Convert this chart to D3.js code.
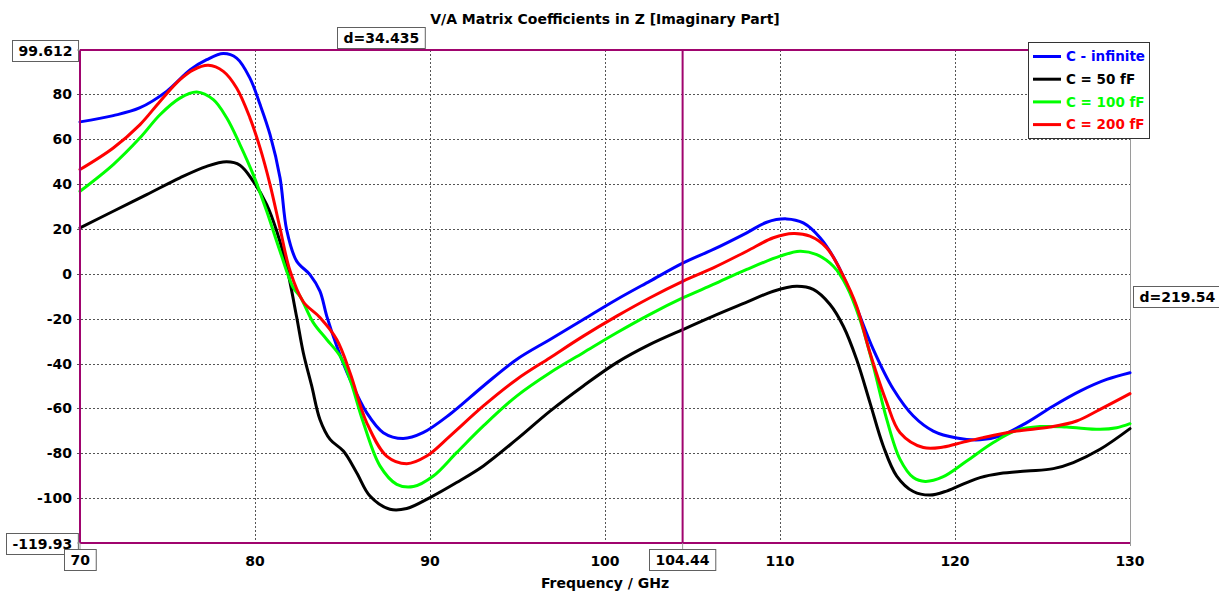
<!DOCTYPE html>
<html>
<head>
<meta charset="utf-8">
<script src="https://cdn.jsdelivr.net/npm/d3@7"></script>
<style>
  html, body { margin: 0; padding: 0; background: #fff; }
  svg { display: block; font-family: "DejaVu Sans", Verdana, sans-serif; font-weight: bold; }
</style>
</head>
<body>
<svg id="chart" width="1219" height="597"></svg>
<script>
// ---- data: imaginary part of the V/A matrix coefficient vs frequency (GHz) ----
const seriesNames  = ["C - infinite", "C = 50 fF", "C = 100 fF", "C = 200 fF"];
const seriesColors = ["#0000ff", "#000000", "#00ff00", "#ff0000"];

const cInfinite = [
  [70,67.6],[71.9,70.4],[73.4,73.8],[74.95,81.2],[76.3,90.8],[77.24,95.3],[78.19,98.0],
  [78.95,96.0],[79.71,87.1],[80.29,75.3],[80.86,61.9],[81.43,42.7],[81.81,19.5],[82.38,5.6],
  [83.14,-0.4],[83.71,-7.8],[84.1,-18.9],[84.67,-32.2],[85.43,-47.1],[86.38,-61.9],
  [87.33,-70.8],[88.47,-73.4],[89.6,-70.8],[91.14,-62.6],[93.05,-50],[94.95,-38.2],
  [96.86,-29.3],[98.76,-20.4],[100.67,-11.5],[102.57,-3.3],[104.47,4.8],[106.19,10.8],
  [108.1,18.2],[109.24,22.9],[110.38,24.4],[111.33,22.6],[112.29,16],[113.24,4.8],
  [114.19,-11.5],[115.33,-33.7],[116.48,-51.5],[117.62,-63.4],[118.76,-70.1],[120.1,-73.2],
  [121.43,-74],[122.57,-72.3],[124.1,-66.3],[125.62,-58.9],[127.14,-52.3],[128.67,-47.1],[130,-44.1]
];
const c50fF = [
  [70,20.4],[71.9,27.8],[73.81,35.2],[75.71,42.7],[77.24,47.8],[78.38,49.8],[79.14,48.3],
  [79.9,41.1],[80.67,30.8],[81.24,19],[81.81,3],[82.38,-19.3],[82.76,-35.2],[83.24,-50],
  [83.71,-64.9],[84.29,-73.8],[85.05,-79],[85.81,-88.6],[86.57,-99],[87.71,-104.9],
  [88.67,-104.6],[90,-99.7],[91.52,-93],[93.05,-85.6],[94.95,-73.8],[96.86,-61.2],
  [98.76,-50],[100.67,-39.6],[102.57,-31.5],[104.47,-24.8],[106.19,-18.9],[108.1,-12.7],
  [109.62,-7.8],[110.95,-5.6],[111.9,-7],[112.86,-13.7],[113.62,-23.4],[114.38,-38.2],
  [115.14,-57.4],[115.9,-76.7],[116.67,-90.1],[117.62,-97],[118.57,-98.6],[119.52,-96.8],
  [120.67,-93],[121.43,-90.8],[122.57,-89],[124.1,-87.9],[125.62,-86.8],[126.76,-84.1],
  [128.29,-78.2],[130,-69]
];
const c100fF = [
  [70,36.7],[71.9,48.6],[73.43,60.5],[74.57,70.8],[75.71,78.2],[76.67,80.9],[77.62,77.5],
  [78.38,69.4],[79.14,57.5],[79.9,44.1],[80.67,27.8],[81.43,10],[82.19,-6.3],[82.57,-10],
  [83.33,-21.8],[84.1,-29.3],[84.86,-36.7],[85.43,-47.1],[86.19,-66.3],[87.14,-85.6],
  [88.1,-93.8],[89.05,-94.8],[90.19,-90.1],[91.52,-79.7],[93.05,-67.8],[94.95,-54.5],
  [96.86,-44.1],[98.76,-35.2],[100.67,-26.3],[102.57,-18.1],[104.47,-10.7],[106.19,-4.8],
  [108.1,1.9],[110,7.8],[111.14,10],[112.1,8.5],[113.05,3.3],[113.81,-5.6],[114.57,-20.4],
  [115.33,-41.1],[116.1,-64.9],[116.86,-82.7],[117.62,-90.8],[118.3,-92.5],[119.3,-90.5],
  [120.67,-83.4],[122.19,-75.2],[123.52,-69.8],[124.86,-68.1],[126.38,-68.3],[128.29,-69.3],
  [129.24,-68.6],[130,-66.8]
];
const c200fF = [
  [70,46.4],[71.9,56],[73.43,66.4],[74.57,76.7],[75.71,86.4],[76.48,90.8],[77.33,92.8],
  [78.19,90.1],[78.95,82.7],[79.71,69.4],[80.29,56],[80.86,39.7],[81.43,20.2],[82.0,1.3],
  [82.76,-12.5],[83.71,-19.5],[84.67,-29.3],[85.43,-44.1],[86.38,-66.3],[87.52,-81.2],
  [88.67,-84.6],[89.81,-81.2],[91.14,-72.3],[93.05,-58.9],[94.95,-47.1],[96.86,-37.4],
  [98.76,-27.8],[100.67,-18.9],[102.57,-10.7],[104.47,-3.3],[106.19,2.6],[108.1,10],
  [109.62,16],[110.76,17.9],[111.71,16.7],[112.67,11.5],[113.62,-1.1],[114.38,-14.5],
  [115.14,-35.2],[116.1,-57.4],[116.86,-70.8],[118.19,-77.4],[119.33,-77.2],[120.48,-75],
  [121.6,-73],[123.52,-70.1],[125.43,-68.3],[126.95,-65.6],[128.29,-60.4],[130,-53.4]
];
const seriesData = [cInfinite, c50fF, c100fF, c200fF];

// axis ticks and marker readouts
const xTicks = [80, 90, 100, 110, 120, 130];
const xGrid  = [80, 90, 100, 110, 120];
const yTicks = [-100, -80, -60, -40, -20, 0, 20, 40, 60, 80];
const xDomain = [70, 130];
const yDomain = [-119.93, 99.612];
const markerX = [70, 104.435];
const markerXLabels = ["70", "104.44"];
const markerY = [99.612, -119.93];
const markerYLabels = ["99.612", "-119.93"];
const deltaXLabel = "d=34.435";
const deltaYLabel = "d=219.54";
const titleText = "V/A Matrix Coefficients in Z [Imaginary Part]";
const xAxisTitle = "Frequency / GHz";

// ---- layout ----
const svg = d3.select("#chart");
const L = 80, R = 1130, T = 50, B = 543;
const markerColor = "#a0046e";
const x = d3.scaleLinear().domain(xDomain).range([L, R]);
const y = d3.scaleLinear().domain(yDomain).range([B, T]);

// title
svg.append("text").attr("x", (L + R) / 2).attr("y", 24)
  .attr("text-anchor", "middle").attr("font-size", 14).text(titleText);

// dotted grid
const grid = svg.append("g").attr("stroke", "#555").attr("stroke-width", 1)
  .attr("stroke-dasharray", "2,2");
grid.selectAll("line.v").data(xGrid).join("line")
  .attr("x1", d => Math.round(x(d)) + 0.5).attr("x2", d => Math.round(x(d)) + 0.5)
  .attr("y1", T).attr("y2", B + 3);
grid.selectAll("line.h").data(yTicks).join("line")
  .attr("x1", L - 3).attr("x2", R)
  .attr("y1", d => Math.round(y(d)) + 0.5).attr("y2", d => Math.round(y(d)) + 0.5);

// plot frame
svg.append("rect").attr("x", L + 0.5).attr("y", T + 0.5)
  .attr("width", R - L).attr("height", B - T)
  .attr("fill", "none").attr("stroke", "#9a9a9a");
svg.append("line").attr("x1", R + 0.5).attr("x2", R + 0.5).attr("y1", T).attr("y2", B + 3)
  .attr("stroke", "#9a9a9a");

// tick labels
svg.append("g").selectAll("text").data(yTicks).join("text")
  .attr("x", 72).attr("y", d => y(d)).attr("dy", "0.36em")
  .attr("text-anchor", "end").attr("font-size", 14).text(d => d);
svg.append("g").selectAll("text").data(xTicks).join("text")
  .attr("x", d => x(d)).attr("y", 566)
  .attr("text-anchor", "middle").attr("font-size", 14).text(d => d);

// axis title
svg.append("text").attr("x", (L + R) / 2).attr("y", 588)
  .attr("text-anchor", "middle").attr("font-size", 14).text(xAxisTitle);

// curves
const line = d3.line().x(d => x(d[0])).y(d => y(d[1])).curve(d3.curveCatmullRom.alpha(0.5));
const plot = svg.append("g");
plot.selectAll("path").data(seriesData).join("path")
  .attr("d", line).attr("fill", "none")
  .attr("stroke", (d, i) => seriesColors[i])
  .attr("stroke-width", 3).attr("stroke-linejoin", "round").attr("stroke-linecap", "round");

// marker lines
const mk = svg.append("g").attr("stroke", markerColor).attr("stroke-width", 2);
mk.selectAll("line.mx").data(markerX).join("line")
  .attr("x1", d => x(d)).attr("x2", d => x(d)).attr("y1", T).attr("y2", B);
mk.selectAll("line.my").data(markerY).join("line")
  .attr("x1", L).attr("x2", R).attr("y1", d => y(d)).attr("y2", d => y(d));

// boxed readouts
function boxLabel(g, text, cx, cy, anchor) {
  const grp = g.append("g");
  const rect = grp.append("rect").attr("fill", "#fff").attr("stroke", "#606060").attr("stroke-width", 1);
  const t = grp.append("text").attr("font-size", 14).attr("dy", "0.36em").text(text);
  const bb = t.node().getBBox();
  const w = bb.width + 12, h = 21;
  let left;
  if (anchor === "right") left = cx - w;
  else if (anchor === "left") left = cx;
  else left = cx - w / 2;
  left = Math.round(left);
  const top = Math.round(cy - h / 2);
  rect.attr("x", left + 0.5).attr("y", top + 0.5).attr("width", w).attr("height", h);
  t.attr("x", left + 6.5).attr("y", cy + 0.5);
}
const labels = svg.append("g");
// small grey stubs joining readouts to the frame
const stubs = svg.append("g").attr("stroke", "#9a9a9a");
markerY.forEach(v => stubs.append("line").attr("x1", L - 3).attr("x2", L).attr("y1", y(v)).attr("y2", y(v)));
markerX.forEach(v => stubs.append("line").attr("x1", x(v)).attr("x2", x(v)).attr("y1", B).attr("y2", B + 6));

markerY.forEach((v, i) => boxLabel(labels, markerYLabels[i], 78, y(v), "right"));
markerX.forEach((v, i) => boxLabel(labels, markerXLabels[i], x(v), B + 16, "middle"));
boxLabel(labels, deltaXLabel, (x(markerX[0]) + x(markerX[1])) / 2, 37, "middle");
boxLabel(labels, deltaYLabel, R + 3, (y(markerY[0]) + y(markerY[1])) / 2, "left");

// legend
const lg = svg.append("g");
lg.append("rect").attr("x", 1028.5).attr("y", 42.5).attr("width", 121).attr("height", 96)
  .attr("fill", "#fff").attr("stroke", "#333").attr("stroke-width", 1);
const rows = lg.selectAll("g.row").data(seriesNames).join("g")
  .attr("transform", (d, i) => `translate(0,${56.5 + i * 22.7})`);
rows.append("line").attr("x1", 1033).attr("x2", 1061).attr("y1", 0).attr("y2", 0)
  .attr("stroke", (d, i) => seriesColors[i]).attr("stroke-width", 3);
rows.append("text").attr("x", 1066).attr("y", 0).attr("dy", "0.36em")
  .attr("font-size", 13.5).attr("fill", (d, i) => seriesColors[i]).text(d => d);
</script>
</body>
</html>
